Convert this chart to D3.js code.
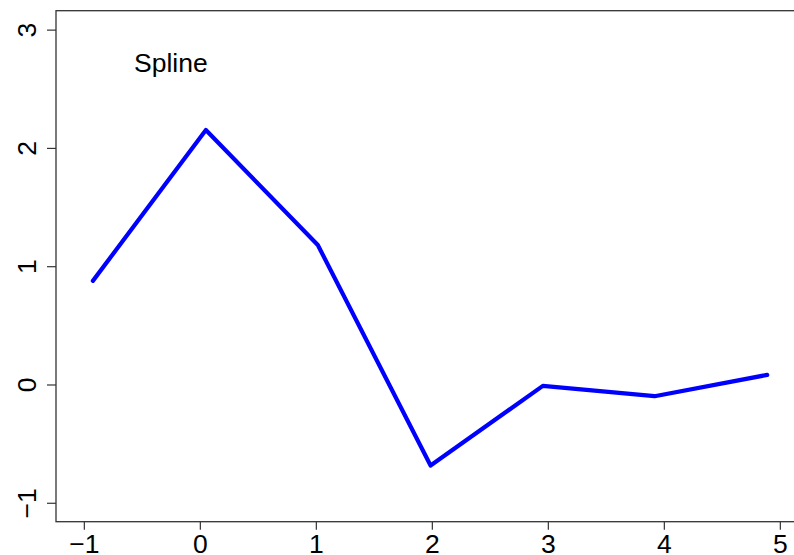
<!DOCTYPE html>
<html>
<head>
<meta charset="utf-8">
<script src="https://cdn.jsdelivr.net/npm/d3@7"></script>
<style>
  html, body { margin: 0; padding: 0; background: #fff; }
  svg { display: block; }
  text { font-family: "Liberation Sans", Arial, Helvetica, sans-serif; fill: #000; }
</style>
</head>
<body>
<svg id="chart" width="794" height="555"></svg>
<script>
// Spline sample values
const xValues = [-0.922, 0.052, 1.017, 1.989, 2.957, 3.92, 4.891];
const yValues = [0.876, 2.151, 1.179, -0.685, -0.012, -0.099, 0.081];
const xTicks = [-1, 0, 1, 2, 3, 4, 5];
const yTicks = [-1, 0, 1, 2, 3];
const xLimits = [-1, 5];
const yLimits = [-1, 3];
const labelText = "Spline";
const labelPos = [-0.25, 2.72];

const svg = d3.select("#chart");
const fontSize = 26.5;

// R-style 4% axis extension
const ext = (lim) => { const d = (lim[1] - lim[0]) * 0.04; return [lim[0] - d, lim[1] + d]; };

const boxLeft = 56, boxTop = 10.7, boxBottom = 521.7;
const unitX = 116;
const xDom = ext(xLimits);
const boxRight = boxLeft + (xDom[1] - xDom[0]) * unitX;

const x = d3.scaleLinear().domain(xDom).range([boxLeft, boxRight]);
const y = d3.scaleLinear().domain(ext(yLimits)).range([boxBottom, boxTop]);

// plot box (right side falls outside the canvas)
svg.append("rect")
  .attr("x", boxLeft).attr("y", boxTop)
  .attr("width", boxRight - boxLeft).attr("height", boxBottom - boxTop)
  .attr("fill", "none").attr("stroke", "#333").attr("stroke-width", 1.3);

// x axis
const xAxis = svg.append("g").attr("transform", `translate(0,${boxBottom})`)
  .call(d3.axisBottom(x).tickValues(xTicks).tickSize(8).tickPadding(2)
    .tickFormat(d => d < 0 ? "\u2212" + Math.abs(d) : d));
xAxis.select(".domain").remove();
xAxis.selectAll("line").attr("stroke", "#333").attr("stroke-width", 1.2);
xAxis.selectAll("text")
  .attr("font-size", fontSize)
  .attr("font-family", "'Liberation Sans', Arial, sans-serif")
  .attr("dy", null).attr("y", 31);

// y axis with rotated labels
const yAxis = svg.append("g").attr("transform", `translate(${boxLeft},0)`)
  .call(d3.axisLeft(y).tickValues(yTicks).tickSize(9)
    .tickFormat(d => d < 0 ? "\u2212" + Math.abs(d) : d));
yAxis.select(".domain").remove();
yAxis.selectAll("line").attr("stroke", "#333").attr("stroke-width", 1.2);
yAxis.selectAll("text")
  .attr("font-size", fontSize)
  .attr("font-family", "'Liberation Sans', Arial, sans-serif")
  .attr("x", null).attr("dy", null)
  .attr("text-anchor", "middle")
  .attr("transform", "translate(-20,0) rotate(-90)");

// the spline curve
const pts = xValues.map((v, i) => [v, yValues[i]]);
svg.append("path")
  .datum(pts)
  .attr("d", d3.line().x(d => x(d[0])).y(d => y(d[1])))
  .attr("fill", "none")
  .attr("stroke", "#0000ff")
  .attr("stroke-width", 4.2)
  .attr("stroke-linejoin", "round")
  .attr("stroke-linecap", "round");

// label
svg.append("text")
  .attr("x", x(labelPos[0])).attr("y", y(labelPos[1]))
  .attr("dy", "0.35em")
  .attr("text-anchor", "middle")
  .attr("font-size", fontSize)
  .text(labelText);
</script>
</body>
</html>
